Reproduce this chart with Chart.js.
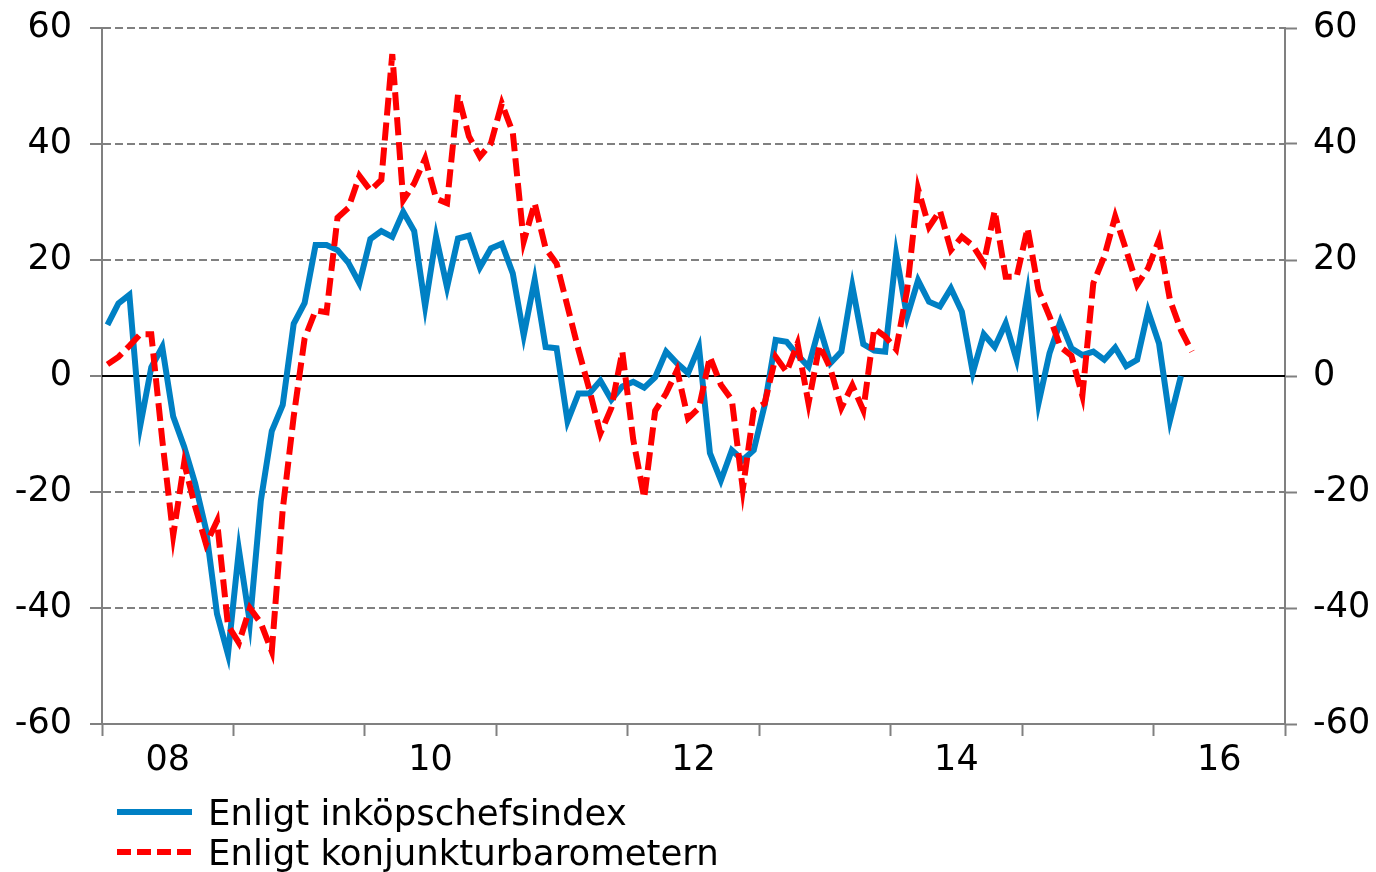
<!DOCTYPE html>
<html>
<head>
<meta charset="utf-8">
<script src="https://cdn.jsdelivr.net/npm/chart.js@4"></script>
<style>
  body { margin: 0; background: #fff; }
  #wrap { position: relative; width: 1376px; height: 872px; }
  #chart { position: absolute; left: 0; top: 0; }
  #legend { position: absolute; left: 117px; top: 792px; font-family: "DejaVu Sans"; font-size: 35.5px; color: #000; }
  .item { display: flex; align-items: center; height: 40px; white-space: nowrap; }
  .item svg { margin-right: 16px; }
</style>
</head>
<body>
<div id="wrap">
  <canvas id="chart" width="1376" height="872"></canvas>
  <div id="legend"></div>
</div>
<script>
// Årsetiketter på x-axeln (mitt i varje jämnt år) och y-axelns steg
const yearLabels = ['08', '10', '12', '14', '16'];
const yMin = -60, yMax = 60, yStep = 20;

// Serienamn
const seriesNames = ['Enligt inköpschefsindex', 'Enligt konjunkturbarometern'];

// Månadsvärden, jan 2008 och framåt
const inkopschefsindex = [
  8.8, 12.5, 14, -8.5, 1.5, 5, -7, -12.2, -18.5, -26.5,
  -41, -48, -30, -42.5, -21.5, -9.5, -5, 9, 12.6, 22.6,
  22.6, 21.7, 19.5, 16, 23.6, 25, 24, 28.3, 25, 12,
  24, 15.3, 23.7, 24.2, 18.7, 22, 22.8, 17.7, 7, 16.6,
  5, 4.8, -7.8, -3, -3, -0.8, -4.1, -1.8, -1, -2,
  -0.2, 4.2, 2.2, 0.5, 5, -13.3, -18, -12.8, -14.5, -12.8,
  -5, 6.2, 5.9, 3.6, 1.6, 8.5, 2.2, 4.2, 15.5, 5.5,
  4.4, 4.2, 21, 10.2, 16.5, 12.8, 12, 15.1, 11.1, 0.6,
  7.2, 5, 9.1, 2.8, 14.2, -4.7, 3.9, 9.4, 4.8, 3.6,
  4.2, 2.8, 4.9, 1.7, 2.8, 11.2, 5.6, -7.6, 0
];

const konjunkturbarometern = [
  2, 3.3, 5.2, 7.2, 7.2, -11, -27.5, -15, -22.5, -29,
  -25, -43, -46, -40, -42.6, -47.5, -23, -7, 6.5, 11.3,
  11, 27.3, 29, 34.5, 32, 33.8, 55.5, 30.3, 33.2, 37.5,
  30.6, 29.8, 48.5, 41.3, 37.8, 40.1, 47, 42, 23.2, 29.8,
  22, 19.4, 12, 4.5, -2.4, -9.9, -5.5, 4.2, -11, -21,
  -6, -3, 1, -7.3, -5.5, 3.3, -1.5, -4.1, -19.5, -5.9,
  -4.7, 3.3, 0.7, 5.6, -4.7, 5.3, 1.3, -5.5, -1.6, -5.9,
  8.2, 6.8, 4.6, 14.8, 32.3, 25.7, 28.5, 21.7, 24, 22.5,
  19.5, 28.5, 17.1, 17.1, 25.5, 14.8, 10.3, 5, 3.5, -3.4,
  16, 20.6, 27.5, 21.7, 15.7, 18.6, 23.5, 13.1, 7.9, 4.2
];

const blue = '#0080c4';
const red = '#ff0000';
const gray = '#808080';
const font = { family: 'DejaVu Sans', size: 35 };

// varje månad ritas mitt i sin månad: x = index + 0.5
const toPoints = arr => arr.map((v, i) => ({ x: i + 0.5, y: v }));

// y-axlarna: fast bredd och ingen extra luft ovanför/under för etiketterna
function fitY(width) {
  return s => {
    s.width = width;
    s.paddingTop = 0;
    s.paddingBottom = 0;
  };
}

// nollinjen, heldragen svart
const zeroLine = {
  id: 'zeroLine',
  beforeDatasetsDraw(chart) {
    const { ctx, chartArea, scales } = chart;
    const y = scales.y.getPixelForValue(0);
    ctx.save();
    ctx.strokeStyle = '#000';
    ctx.lineWidth = 2;
    ctx.beginPath();
    ctx.moveTo(chartArea.left, y);
    ctx.lineTo(chartArea.right, y);
    ctx.stroke();
    ctx.restore();
  }
};

const ctx = document.getElementById('chart').getContext('2d');
const chart = new Chart(ctx, {
  type: 'line',
  data: {
    datasets: [{
      label: seriesNames[0],
      data: toPoints(inkopschefsindex),
      borderColor: blue,
      borderWidth: 6,
      pointRadius: 0,
      tension: 0,
      order: 1
    }, {
      label: seriesNames[1],
      data: toPoints(konjunkturbarometern),
      borderColor: red,
      borderWidth: 6,
      borderDash: [18, 7],
      pointRadius: 0,
      tension: 0,
      order: 0
    }]
  },
  options: {
    responsive: false,
    animation: false,
    layout: { padding: { top: 28, left: 0, right: 0, bottom: 0 } },
    plugins: { legend: { display: false }, tooltip: { enabled: false } },
    scales: {
      x: {
        type: 'linear',
        min: 0,
        max: yearLabels.length * 24 - 12,
        afterFit: s => { s.height = 872 - 724; s.paddingLeft = 0; s.paddingRight = 0; },
        ticks: {
          stepSize: 6,
          autoSkip: false,
          maxRotation: 0,
          padding: 4,
          color: '#000',
          font: font,
          callback: v => (v % 24 === 6 ? yearLabels[(v - 6) / 24] : '')
        },
        grid: {
          drawOnChartArea: false,
          tickLength: 12,
          tickWidth: 2,
          tickBorderDash: [],
          tickColor: c => (c.tick && c.tick.value % 12 === 0 ? gray : 'transparent')
        },
        border: { display: true, color: gray, width: 2 }
      },
      y: {
        position: 'left',
        min: yMin,
        max: yMax,
        afterFit: fitY(102),
        ticks: { stepSize: yStep, padding: 18, color: '#000', font: font },
        grid: {
          lineWidth: 2,
          color: c => (c.tick && (c.tick.value === 0 || c.tick.value === yMin) ? 'transparent' : gray),
          tickColor: gray,
          tickWidth: 2,
          tickLength: 12,
          tickBorderDash: []
        },
        border: { display: true, color: gray, width: 2, dash: [8, 4] }
      },
      y1: {
        position: 'right',
        min: yMin,
        max: yMax,
        afterFit: fitY(1376 - 1285),
        ticks: { stepSize: yStep, padding: 16, color: '#000', font: font },
        grid: {
          drawOnChartArea: false,
          tickColor: gray,
          tickWidth: 2,
          tickLength: 12,
          tickBorderDash: []
        },
        border: { display: true, color: gray, width: 2 }
      }
    }
  },
  plugins: [zeroLine]
});

// Legend under diagrammet, en rad per serie
const legend = document.getElementById('legend');
chart.data.datasets.forEach(ds => {
  const dash = ds.borderDash ? ` stroke-dasharray="14 6"` : '';
  const row = document.createElement('div');
  row.className = 'item';
  row.innerHTML = `<svg width="75" height="8"><line x1="0" y1="4" x2="75" y2="4" stroke="${ds.borderColor}" stroke-width="6"${dash}/></svg><span>${ds.label}</span>`;
  legend.appendChild(row);
});
</script>
</body>
</html>
